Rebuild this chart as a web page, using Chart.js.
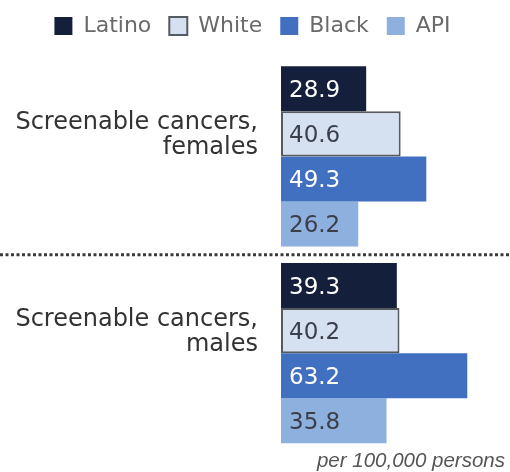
<!DOCTYPE html>
<html>
<head>
<meta charset="utf-8">
<script src="https://cdn.jsdelivr.net/npm/chart.js@4.4.1/dist/chart.umd.min.js"></script>
<style>
  html, body { margin: 0; padding: 0; background: #fff; overflow: hidden; }
  canvas { display: block; }
</style>
</head>
<body>
<canvas id="chart" width="510" height="472"></canvas>
<script>
// data
var categories = [["Screenable cancers,", "females"], ["Screenable cancers,", "males"]];
var seriesNames = ["Latino", "White", "Black", "API"];
var latino = [28.9, 39.3];
var white = [40.6, 40.2];
var black = [49.3, 63.2];
var api = [26.2, 35.8];
var unitNote = "per 100,000 persons";

var fills = ["#14203b", "#d5e0f1", "#4170c1", "#8eb0df"];
var labelColors = ["#ffffff", "#3a3f4a", "#ffffff", "#3a3f4a"];

// value text inside each bar
var barText = {
    id: "barText",
    afterDatasetsDraw: function (chart) {
        var ctx = chart.ctx;
        ctx.save();
        ctx.font = "23px 'DejaVu Sans'";
        ctx.textBaseline = "middle";
        ctx.textAlign = "left";
        chart.data.datasets.forEach(function (ds, i) {
            chart.getDatasetMeta(i).data.forEach(function (bar, j) {
                ctx.fillStyle = labelColors[i];
                ctx.fillText(ds.data[j].toFixed(1), bar.base + 8, bar.y + 2);
            });
        });
        ctx.restore();
    }
};

// dotted separator between the two groups
var separator = {
    id: "separator",
    afterDraw: function (chart) {
        var y = chart.scales.y.getPixelForValue(0.5);
        var ctx = chart.ctx;
        ctx.save();
        ctx.strokeStyle = "#3a3a3a";
        ctx.lineWidth = 3;
        ctx.setLineDash([3, 2.5]);
        ctx.beginPath();
        ctx.moveTo(0, y);
        ctx.lineTo(chart.width, y);
        ctx.stroke();
        ctx.restore();
    }
};

var series = [latino, white, black, api];
var datasets = series.map(function (vals, i) {
    return {
        label: seriesNames[i],
        data: vals,
        backgroundColor: fills[i],
        borderColor: i == 1 ? "#555a60" : fills[i],
        borderWidth: i == 1 ? 2 : 0,
        borderSkipped: false
    };
});

new Chart(document.getElementById("chart"), {
    type: "bar",
    data: { labels: categories, datasets: datasets },
    plugins: [barText, separator],
    options: {
        indexAxis: "y",
        responsive: false,
        animation: false,
        layout: { padding: { top: -3, right: 5, bottom: 0, left: 0 } },
        datasets: { bar: { barPercentage: 1, categoryPercentage: 0.915 } },
        plugins: {
            tooltip: { enabled: false },
            legend: {
                display: true,
                position: "top",
                labels: {
                    font: { family: "DejaVu Sans", size: 22 },
                    color: "#6a6a6a",
                    boxWidth: 18,
                    boxHeight: 18,
                    padding: 18,
                    useBorderRadius: false
                }
            }
        },
        scales: {
            y: {
                grid: { display: false, drawTicks: false },
                border: { display: false },
                ticks: {
                    font: { family: "DejaVu Sans", size: 24, lineHeight: 1.04 },
                    color: "#333",
                    padding: 23,
                    labelOffset: -21
                },
                afterFit: function (scale) {
                    scale.width = 281;
                    // labels sit mid-category, no need to reserve room above/below
                    scale.paddingTop = 0;
                    scale.paddingBottom = 0;
                }
            },
            x: {
                min: 0,
                max: 76,
                grid: { display: false, drawTicks: false },
                border: { display: false },
                ticks: { display: false },
                title: {
                    display: true,
                    text: unitNote,
                    align: "end",
                    color: "#555",
                    font: { family: "Liberation Sans", size: 20.5, style: "italic", lineHeight: 1 },
                    padding: { top: 0, bottom: 0 }
                }
            },
            // empty top axis, only keeps the gap under the legend
            gap: {
                type: "linear",
                position: "top",
                display: true,
                grid: { display: false, drawTicks: false },
                border: { display: false },
                ticks: { display: false },
                afterFit: function (scale) { scale.height = 11; }
            }
        }
    }
});
</script>
</body>
</html>
